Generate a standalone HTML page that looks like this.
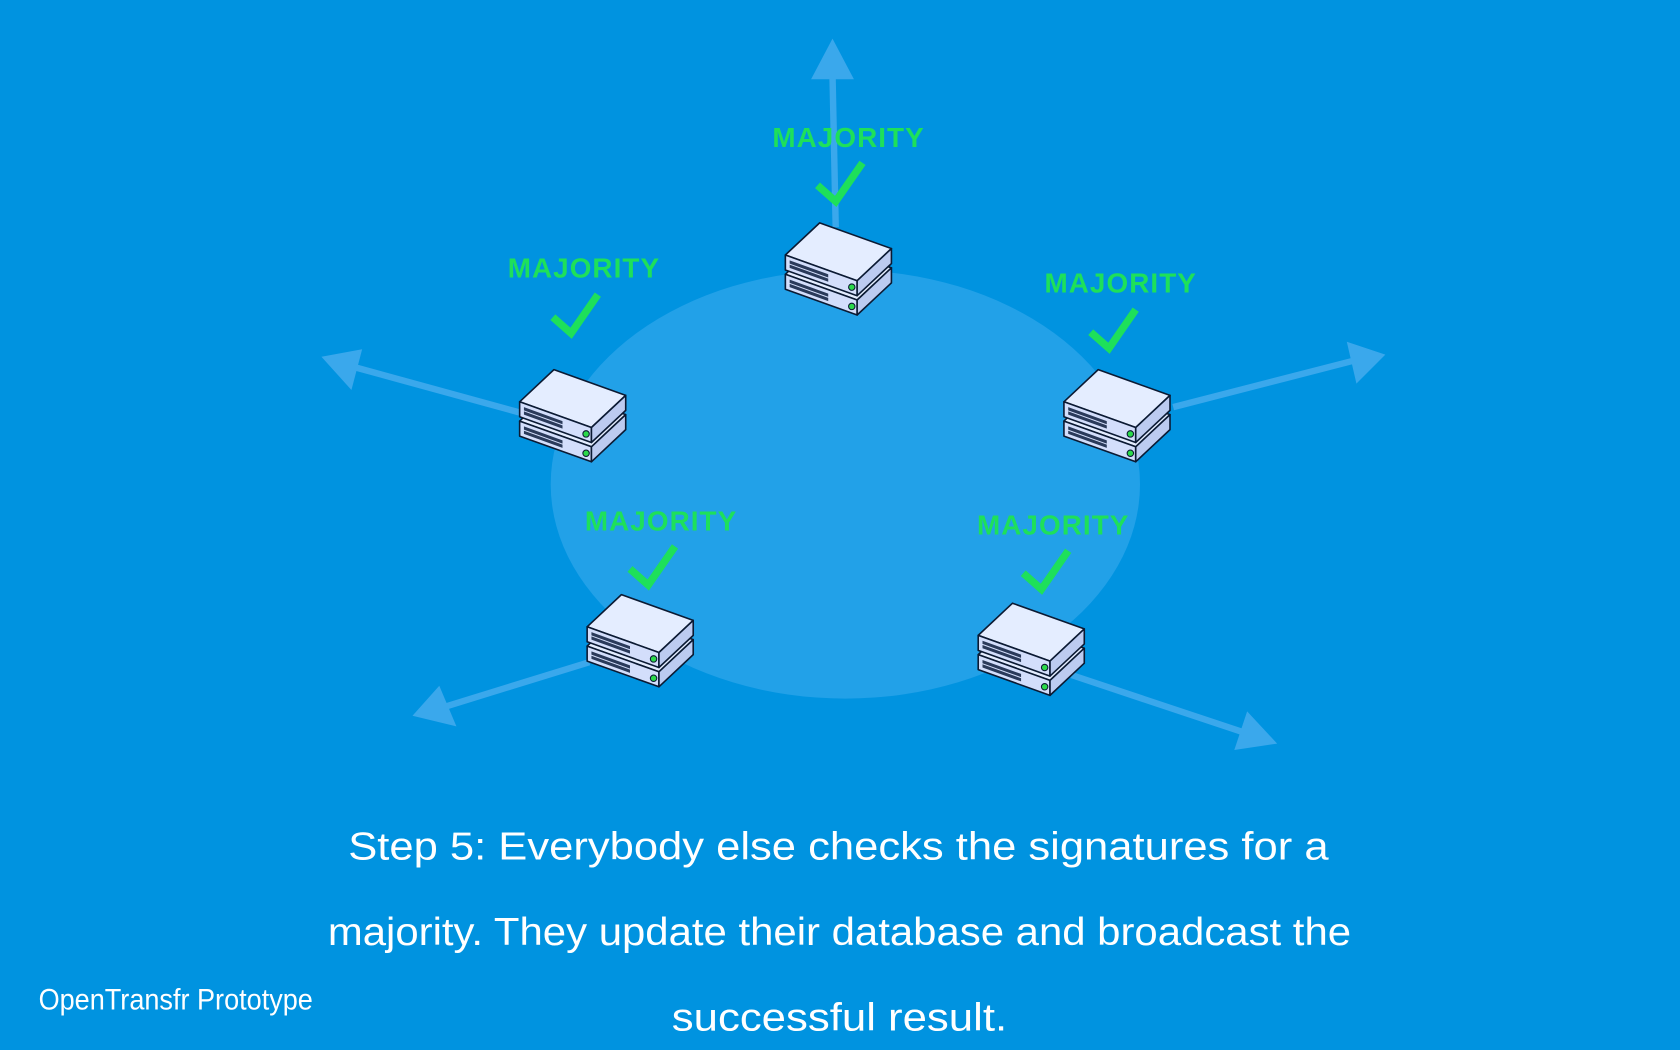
<!DOCTYPE html>
<html><head><meta charset="utf-8"><style>html,body{margin:0;padding:0;background:#0093e0;overflow:hidden}svg{display:block}</style></head>
<body>
<svg width="1680" height="1050" viewBox="0 0 1568 980" xmlns="http://www.w3.org/2000/svg">
<defs>
<g id="srv" stroke="#0b1a33" stroke-width="1.5" stroke-linejoin="round">
  <g transform="translate(0,18)">
    <polygon points="0,0 32,-30 99,-6 67,24" fill="#e4edff"/>
    <polygon points="0,0 67,24 67,38 0,14" fill="#d3defb"/>
    <polygon points="67,24 99,-6 99,8 67,38" fill="#bccbf0"/>
    <g stroke="none" fill="#2a3a5a"><polygon points="4,5 40,18 40,21 4,8"/><polygon points="4,9 40,22 40,25 4,12"/></g>
    <circle cx="62" cy="30" r="3" fill="#2bd94a" stroke-width="1"/>
  </g>
  <polygon points="0,0 32,-30 99,-6 67,24" fill="#e4edff"/>
  <polygon points="0,0 67,24 67,38 0,14" fill="#d3defb"/>
  <polygon points="67,24 99,-6 99,8 67,38" fill="#bccbf0"/>
  <g stroke="none" fill="#2a3a5a"><polygon points="4,5 40,18 40,21 4,8"/><polygon points="4,9 40,22 40,25 4,12"/></g>
  <circle cx="62" cy="30" r="3" fill="#2bd94a" stroke-width="1"/>
</g>
<g id="chk"><polyline points="-22,-5 -5,10 20,-26" fill="none" stroke="#1ee05a" stroke-width="7"/></g>
</defs>
<rect width="1568" height="980" fill="#0093e0"/>
<ellipse cx="789" cy="452" rx="275" ry="200" fill="#22a1e8"/>
<g stroke="#3aa8ec" stroke-width="6" fill="#3aa8ec">
  <line x1="780" y1="212" x2="777" y2="70"/><polygon points="777,36 757,74 797,74" stroke="none"/>
  <line x1="485" y1="385" x2="332" y2="343"/><polygon points="300,333 338,326 328,364" stroke="none"/>
  <line x1="1095" y1="380" x2="1262" y2="337"/><polygon points="1293,331 1257,319 1266,358" stroke="none"/>
  <line x1="550" y1="618" x2="414" y2="660"/><polygon points="385,668 410,640 426,678" stroke="none"/>
  <line x1="1000" y1="630" x2="1162" y2="684"/><polygon points="1192,694 1164,664 1152,700" stroke="none"/>
</g>
<use href="#srv" x="733" y="238"/>
<use href="#srv" x="485" y="375"/>
<use href="#srv" x="993" y="375"/>
<use href="#srv" x="548" y="585"/>
<use href="#srv" x="913" y="593"/>
<g font-family="Liberation Sans, sans-serif" font-size="26" font-weight="bold" fill="#1ee05a" text-anchor="middle" letter-spacing="1">
  <text x="792" y="137">MAJORITY</text>
  <text x="545" y="259">MAJORITY</text>
  <text x="1046" y="273">MAJORITY</text>
  <text x="617" y="495">MAJORITY</text>
  <text x="983" y="499">MAJORITY</text>
</g>
<use href="#chk" x="785" y="178"/>
<use href="#chk" x="538" y="301"/>
<use href="#chk" x="1040" y="315"/>
<use href="#chk" x="610" y="536"/>
<use href="#chk" x="977" y="540"/>
<g font-family="Liberation Sans, sans-serif" fill="#ffffff" font-size="36">
  <text x="325" y="802" textLength="915" lengthAdjust="spacingAndGlyphs">Step 5: Everybody else checks the signatures for a</text>
  <text x="306" y="882" textLength="955" lengthAdjust="spacingAndGlyphs">majority. They update their database and broadcast the</text>
  <text x="627" y="962" textLength="313" lengthAdjust="spacingAndGlyphs">successful result.</text>
  <text x="36" y="942" font-size="28" textLength="256" lengthAdjust="spacingAndGlyphs">OpenTransfr Prototype</text>
</g>
</svg>
</body></html>
